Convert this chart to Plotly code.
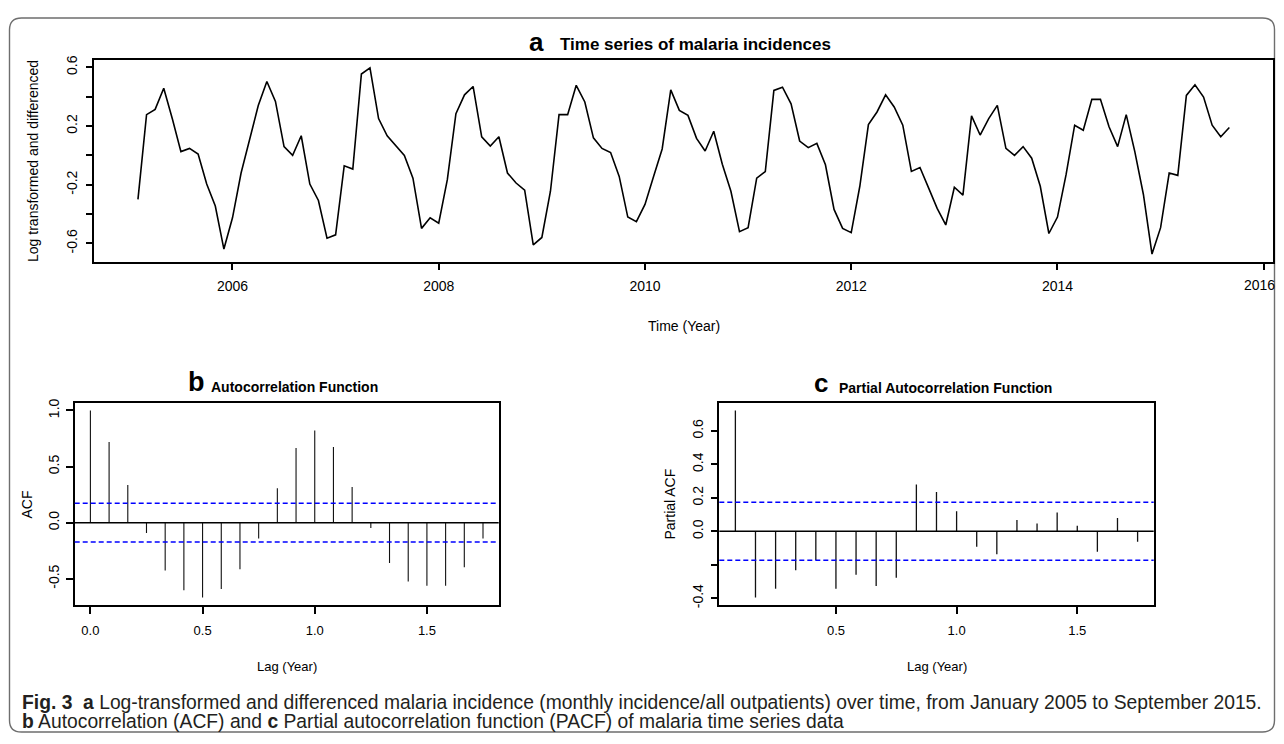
import plotly.graph_objects as go

# The page body keeps its default 8px margin, so the figure is 16px smaller than the
# 1284x744 window and every reference pixel position is shifted by that margin.
PAGE_W, PAGE_H, OFF = 1284, 744, 8
W, H = PAGE_W - 2 * OFF, PAGE_H - 2 * OFF

# ---------------- data ----------------
start_year = 2005
start_month = 2          # first differenced value: February 2005
monthly_values = [
    -0.300, 0.278, 0.314, 0.458, 0.250, 0.026, 0.048, 0.010, -0.195, -0.345, -0.638, -0.425,
    -0.120, 0.105, 0.340, 0.504, 0.368, 0.060, 0.000, 0.134, -0.195, -0.307, -0.564, -0.541,
    -0.071, -0.093, 0.555, 0.596, 0.251, 0.134, 0.067, 0.000, -0.155, -0.497, -0.425, -0.462,
    -0.165, 0.285, 0.413, 0.470, 0.127, 0.064, 0.127, -0.120, -0.188, -0.237, -0.610, -0.559,
    -0.244, 0.278, 0.278, 0.478, 0.364, 0.120, 0.048, 0.020, -0.143, -0.420, -0.451, -0.334,
    -0.143, 0.044, 0.447, 0.307, 0.273, 0.116, 0.030, 0.165, -0.060, -0.244, -0.519, -0.492,
    -0.155, -0.110, 0.443, 0.465, 0.352, 0.098, 0.053, 0.082, -0.064, -0.368, -0.497, -0.526,
    -0.210, 0.210, 0.296, 0.413, 0.330, 0.206, -0.109, -0.082, -0.221, -0.361, -0.474, -0.217,
    -0.271, 0.269, 0.139, 0.251, 0.341, 0.048, 0.000, 0.060, -0.019, -0.210, -0.532, -0.420,
    -0.131, 0.206, 0.172, 0.382, 0.382, 0.195, 0.060, 0.278, 0.026, -0.266, -0.672, -0.492,
    -0.120, -0.136, 0.409, 0.481, 0.398, 0.206, 0.127, 0.190,
]
acf_lag_months = list(range(0, 22))
acf_values = [1.000, 0.720, 0.335, -0.091, -0.426, -0.603, -0.668, -0.591, -0.415, -0.141, 0.306,
              0.665, 0.821, 0.674, 0.318, -0.047, -0.359, -0.524, -0.562, -0.562, -0.397, -0.141]
pacf_lag_months = list(range(1, 22))
pacf_values = [0.722, -0.396, -0.343, -0.233, -0.171, -0.343, -0.259, -0.327, -0.278, 0.280,
               0.235, 0.120, -0.092, -0.137, 0.067, 0.047, 0.112, 0.033, -0.122, 0.080, -0.063]
conf_limit = 0.173

top_xticks = [2006, 2008, 2010, 2012, 2014, 2016]
# the last label sits on the window edge; it is drawn as a separate text so it is not dropped
top_xticktext = ["2006", "2008", "2010", "2012", "2014", ""]
edge_tick_label = "2016"
top_yticks = [-0.6, -0.4, -0.2, 0.0, 0.2, 0.4, 0.6]
top_yticktext = ["-0.6", "", "-0.2", "", "0.2", "", "0.6"]
acf_xticks = [0.0, 0.5, 1.0, 1.5]
acf_yticks = [-0.5, 0.0, 0.5, 1.0]
acf_yticktext = ["-0.5", "0.0", "0.5", "1.0"]
pacf_xticks = [0.5, 1.0, 1.5]
pacf_yticks = [-0.4, -0.2, 0.0, 0.2, 0.4, 0.6]
pacf_yticktext = ["-0.4", "", "0.0", "0.2", "0.4", "0.6"]

# derived coordinates (R ts time in decimal years, lags in years)
times = [start_year + (start_month - 1 + k) / 12 for k in range(len(monthly_values))]
acf_lags = [m / 12 for m in acf_lag_months]
pacf_lags = [m / 12 for m in pacf_lag_months]


def spikes(xs, ys):
    sx, sy = [], []
    for a, b in zip(xs, ys):
        sx += [a, a, None]
        sy += [0, b, None]
    return sx, sy


# ---------------- styling helpers ----------------
ARIAL = "Liberation Sans, Arial, sans-serif"
BLACK = "#000000"


def fx(px):
    return (px - OFF) / W


def fy(py):
    return 1 - (py - OFF) / H


fig = go.Figure()

fig.add_trace(go.Scatter(x=times, y=monthly_values, mode="lines",
                         line=dict(color=BLACK, width=1.6), xaxis="x", yaxis="y",
                         showlegend=False, hoverinfo="skip"))

ax, ay = spikes(acf_lags, acf_values)
fig.add_trace(go.Scatter(x=ax, y=ay, mode="lines", line=dict(color="#111111", width=1.1),
                         xaxis="x2", yaxis="y2", showlegend=False, hoverinfo="skip"))
px_, py_ = spikes(pacf_lags, pacf_values)
fig.add_trace(go.Scatter(x=px_, y=py_, mode="lines", line=dict(color="#111111", width=1.3),
                         xaxis="x3", yaxis="y3", showlegend=False, hoverinfo="skip"))

shapes = []
for xa, ya in (("x2", "y2"), ("x3", "y3")):
    shapes.append(dict(type="line", xref=f"{xa} domain", yref=ya, x0=0, x1=1, y0=0, y1=0,
                       line=dict(color=BLACK, width=1.5)))
    for c in (conf_limit, -conf_limit):
        shapes.append(dict(type="line", xref=f"{xa} domain", yref=ya, x0=0, x1=1, y0=c, y1=c,
                           line=dict(color="#0000ff", width=1.5, dash="5px,3px")))

# rounded outer frame
L, R_, T, B, r = 9.5, 1274.5, 13, 735, 12
path = (f"M {fx(L + r)} {fy(T)} L {fx(R_ - r)} {fy(T)} Q {fx(R_)} {fy(T)} {fx(R_)} {fy(T + r)} "
        f"L {fx(R_)} {fy(B - r)} Q {fx(R_)} {fy(B)} {fx(R_ - r)} {fy(B)} "
        f"L {fx(L + r)} {fy(B)} Q {fx(L)} {fy(B)} {fx(L)} {fy(B - r)} "
        f"L {fx(L)} {fy(T + r)} Q {fx(L)} {fy(T)} {fx(L + r)} {fy(T)} Z")
shapes.append(dict(type="path", xref="paper", yref="paper", path=path,
                   line=dict(color="#6e6e6e", width=1.4), layer="below"))

axis_common = dict(showline=True, mirror=True, linecolor=BLACK, linewidth=1.5,
                   ticks="outside", ticklen=7, tickcolor=BLACK, tickwidth=1.5,
                   showgrid=False, zeroline=False, tickmode="array")

fig.update_layout(
    width=W, height=H, margin=dict(l=0, r=0, t=0, b=0),
    paper_bgcolor="white", plot_bgcolor="white", showlegend=False,
    xaxis=dict(**axis_common, domain=[fx(94.3), fx(1273)], anchor="y",
               range=[2004.66, 2016.09], tickvals=top_xticks, ticktext=top_xticktext,
               tickfont=dict(family=ARIAL, size=14, color=BLACK), ticklabelstandoff=4),
    yaxis=dict(**axis_common, domain=[fy(259.3), fy(56)], anchor="x",
               range=[-0.723, 0.647], tickvals=top_yticks, ticktext=top_yticktext,
               tickangle=-90, tickfont=dict(family=ARIAL, size=14, color=BLACK),
               ticklabelstandoff=3),
    xaxis2=dict(**axis_common, domain=[fx(74.7), fx(498.7)], anchor="y2",
                range=[-0.07, 1.82], tickvals=acf_xticks,
                ticktext=[f"{t:.1f}" for t in acf_xticks],
                tickfont=dict(family=ARIAL, size=13, color=BLACK), ticklabelstandoff=6),
    yaxis2=dict(**axis_common, domain=[fy(606.7), fy(402.3)], anchor="x2",
                range=[-0.735, 1.067], tickvals=acf_yticks, ticktext=acf_yticktext,
                tickangle=-90, tickfont=dict(family=ARIAL, size=14, color=BLACK),
                ticklabelstandoff=1),
    xaxis3=dict(**axis_common, domain=[fx(719.3), fx(1153.7)], anchor="y3",
                range=[0.0167, 1.8167], tickvals=pacf_xticks,
                ticktext=[f"{t:.1f}" for t in pacf_xticks],
                tickfont=dict(family=ARIAL, size=13, color=BLACK), ticklabelstandoff=6),
    yaxis3=dict(**axis_common, domain=[fy(606.7), fy(402.3)], anchor="x3",
                range=[-0.441, 0.767], tickvals=pacf_yticks, ticktext=pacf_yticktext,
                tickangle=-90, tickfont=dict(family=ARIAL, size=14, color=BLACK),
                ticklabelstandoff=2),
    shapes=shapes,
)

# last tick label of the time axis, placed at its tick, nudged to stay inside the page
fig.add_annotation(text=edge_tick_label, x=top_xticks[-1], xref="x", y=fy(283.5), yref="paper",
                   xanchor="center", yanchor="middle", xshift=-4, showarrow=False,
                   font=dict(family=ARIAL, size=14, color=BLACK))


def ann(text, x, y, size, family=ARIAL, angle=0, xanchor="center", bold=False, color=BLACK):
    if bold:
        text = f"<b>{text}</b>"
    fig.add_annotation(text=text, x=fx(x), y=fy(y), xref="paper", yref="paper",
                       showarrow=False, textangle=angle, xanchor=xanchor, yanchor="middle",
                       font=dict(family=family, size=size, color=color))


# titles
ann("a", 536, 37, 26, bold=True)
ann("Time series of malaria incidences", 695, 40, 17, bold=True)
ann("b", 196.5, 381, 27, bold=True)
ann("Autocorrelation Function", 294, 386, 14, bold=True)
ann("c", 821, 382, 26, bold=True)
ann("Partial Autocorrelation Function", 945.5, 387, 14, bold=True)

# axis titles
ann("Log transformed and differenced", 33, 157.6, 14, angle=-90)
ann("Time (Year)", 683.6, 324, 14)
ann("ACF", 27, 505, 14, angle=-90)
ann("Lag (Year)", 287, 669, 13)
ann("Partial ACF", 670, 505, 14, angle=-90)
ann("Lag (Year)", 936.5, 669, 13)

# caption
CAPC = "#231f20"
fig.add_annotation(
    text="<b>Fig. 3</b>  <b>a</b> Log-transformed and differenced malaria incidence (monthly incidence/all "
         "outpatients) over time, from January 2005 to September 2015.",
    x=fx(20), y=fy(705), xref="paper", yref="paper", showarrow=False, xanchor="left",
    yanchor="middle", font=dict(family=ARIAL, size=19.3, color=CAPC))
fig.add_annotation(
    text="<b>b</b> Autocorrelation (ACF) and <b>c</b> Partial autocorrelation function (PACF) of "
         "malaria time series data",
    x=fx(20), y=fy(724), xref="paper", yref="paper", showarrow=False, xanchor="left",
    yanchor="middle", font=dict(family=ARIAL, size=19.3, color=CAPC))

fig.write_html("out.html")
